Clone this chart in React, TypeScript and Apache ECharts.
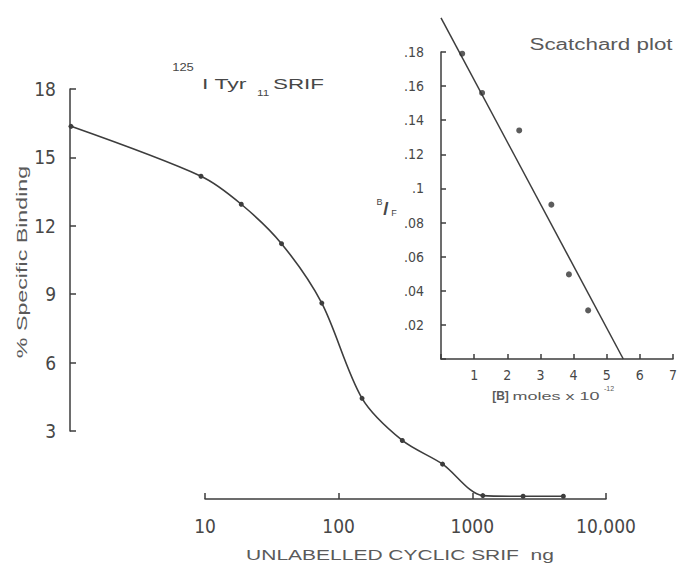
import React, { useEffect, useRef } from "react";
import * as echarts from "echarts";

// Competitive displacement: unlabelled cyclic SRIF dose (ng) vs % specific binding
const doses = [1, 9.375, 18.75, 37.5, 75, 150, 300, 600, 1200, 2400, 4800];
const binding = [16.36, 14.17, 12.94, 11.21, 8.6, 4.42, 2.57, 1.53, 0.15, 0.12, 0.12];

const doseTicks = [10, 100, 1000, 10000];
const doseTickLabels = ["10", "100", "1000", "10,000"];
const bindingTicks = [3, 6, 9, 12, 15, 18];

// Scatchard plot: bound (moles x 10^-12) vs B/F
const bound = [0.64, 1.24, 2.36, 3.33, 3.86, 4.44];
const boundOverFree = [0.179, 0.156, 0.134, 0.0905, 0.0496, 0.0285];
const scatchardIntercept = 0.2; // B/F at B = 0
const scatchardBmax = 5.5; // B at B/F = 0

const INK = "#3d3d3d";
const TEXT = "#474747";
const SOFT = "#5a5a5a";
const NARROW = "'Liberation Sans Narrow', 'DejaVu Sans Condensed', 'Liberation Sans', sans-serif";
const SANS = "'Liberation Sans', Arial, sans-serif";

const txt = (
  text: string,
  x: number,
  y: number,
  fontSize: number,
  opts: { align?: string; scaleX?: number; rotation?: number; fill?: string; fontWeight?: string; fontFamily?: string } = {}
) => ({
  type: "text",
  x,
  y,
  scaleX: opts.scaleX ?? 1,
  rotation: opts.rotation ?? 0,
  silent: true,
  style: {
    text,
    fontSize,
    fontFamily: opts.fontFamily ?? SANS,
    fontWeight: opts.fontWeight ?? "normal",
    fill: opts.fill ?? TEXT,
    align: opts.align ?? "center",
    textAlign: opts.align ?? "center",
    verticalAlign: "middle",
    textVerticalAlign: "middle",
  },
});

const decimalLabel = (v: number) => {
  if (v === 0) return "";
  return String(+v.toFixed(2)).replace(/^0/, "");
};

export default function App() {
  const ref = useRef<HTMLDivElement>(null);

  useEffect(() => {
    if (!ref.current) return;
    const chart = echarts.init(ref.current, undefined, { renderer: "svg" });

    const axisLine = { show: true, lineStyle: { color: INK, width: 1.5 } };
    const tick = (length: number) => ({ show: true, inside: true, length, lineStyle: { color: INK, width: 1.5 } });

    chart.setOption({
      animation: false,
      backgroundColor: "#ffffff",
      grid: [
        { left: 71, top: 89, width: 535, height: 410 },
        { left: 70, top: 89, width: 10, height: 342 },
        { left: 205, top: 399, width: 401, height: 100 },
        { left: 441, top: 52, width: 235, height: 307 },
      ],
      xAxis: [
        { gridIndex: 0, type: "log", logBase: 10, min: 1, max: 10000, show: false },
        { gridIndex: 1, type: "value", min: 0, max: 1, show: false },
        {
          gridIndex: 2,
          type: "log",
          logBase: 10,
          min: 10,
          max: 10000,
          axisLine,
          axisTick: tick(6),
          splitLine: { show: false },
          minorTick: { show: false },
          axisLabel: {
            margin: 17,
            fontSize: 19,
            fontFamily: NARROW,
            color: TEXT,
            formatter: (v: number) => {
              const i = doseTicks.findIndex((t) => Math.abs(t - v) / t < 1e-6);
              return i >= 0 ? doseTickLabels[i] : "";
            },
          },
        },
        {
          gridIndex: 3,
          type: "value",
          min: 0,
          max: 7,
          interval: 1,
          axisLine,
          axisTick: tick(5),
          splitLine: { show: false },
          axisLabel: {
            margin: 9,
            fontSize: 14,
            fontFamily: NARROW,
            color: TEXT,
            formatter: (v: number) => (v === 0 ? "" : String(v)),
          },
        },
      ],
      yAxis: [
        { gridIndex: 0, type: "value", min: 0, max: 18, show: false },
        {
          gridIndex: 1,
          type: "value",
          min: bindingTicks[0],
          max: bindingTicks[bindingTicks.length - 1],
          interval: bindingTicks[1] - bindingTicks[0],
          axisLine,
          axisTick: tick(6),
          splitLine: { show: false },
          axisLabel: { margin: 14, fontSize: 19, fontFamily: NARROW, color: TEXT },
        },
        { gridIndex: 2, type: "value", min: 0, max: 1, show: false },
        {
          gridIndex: 3,
          type: "value",
          min: 0,
          max: 0.18,
          interval: 0.02,
          axisLine,
          axisTick: tick(5),
          splitLine: { show: false },
          axisLabel: { margin: 17, fontSize: 14, fontFamily: NARROW, color: TEXT, formatter: decimalLabel },
        },
      ],
      series: [
        {
          type: "line",
          xAxisIndex: 0,
          yAxisIndex: 0,
          data: doses.map((d, i) => [d, binding[i]]),
          smooth: 0.3,
          symbol: "circle",
          symbolSize: 5,
          clip: false,
          lineStyle: { color: INK, width: 1.6 },
          itemStyle: { color: INK },
        },
        {
          type: "scatter",
          xAxisIndex: 3,
          yAxisIndex: 3,
          data: bound.map((b, i) => [b, boundOverFree[i]]),
          symbol: "circle",
          symbolSize: 6,
          itemStyle: { color: "#333" },
          z: 3,
        },
        {
          type: "line",
          xAxisIndex: 3,
          yAxisIndex: 3,
          data: [
            [0, scatchardIntercept],
            [scatchardBmax, 0],
          ],
          symbol: "none",
          clip: false,
          lineStyle: { color: INK, width: 1.5 },
        },
      ],
      graphic: [
        // tracer label
        txt("125", 183, 68, 10, { scaleX: 1.3 }),
        txt("I Tyr", 202, 84, 14, { align: "left", scaleX: 1.65 }),
        txt("11", 257, 93, 9, { align: "left", scaleX: 1.3 }),
        txt("SRIF", 273, 84, 14, { align: "left", scaleX: 1.6 }),
        // axis titles
        txt("% Specific Binding", 22, 262, 15, { rotation: Math.PI / 2, scaleX: 1.55, fill: SOFT }),
        txt("UNLABELLED CYCLIC SRIF  ng", 400, 555, 14, { scaleX: 1.5, fill: SOFT }),
        // inset
        txt("Scatchard plot", 601, 44, 16, { scaleX: 1.4, fill: SOFT }),
        txt("B", 379.5, 201.5, 9, { fill: TEXT }),
        txt("/", 386, 208, 19, { fill: TEXT, fontWeight: "bold" }),
        txt("F", 394, 213, 9, { fill: TEXT }),
        txt("[B]", 500.5, 396, 12, { fill: SOFT, fontWeight: "bold" }),
        txt("moles x 10", 556, 397, 10, { scaleX: 1.8, fill: SOFT }),
        txt("-12", 609, 388, 7, { fill: SOFT }),
      ],
    });

    return () => chart.dispose();
  }, []);

  return <div ref={ref} style={{ width: 680, height: 566, position: "absolute", left: 0, top: 0 }} />;
}
